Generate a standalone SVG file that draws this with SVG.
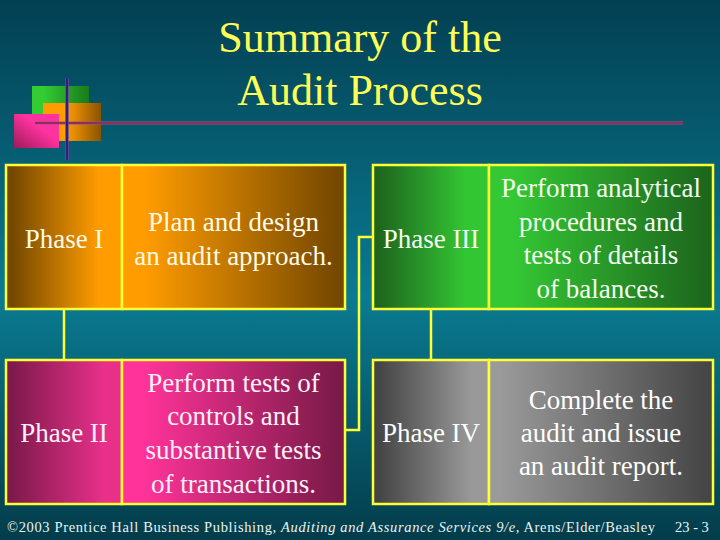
<svg xmlns="http://www.w3.org/2000/svg" width="720" height="540" viewBox="0 0 720 540" font-family="'Liberation Serif', serif">
<defs>
<linearGradient id="bg" x1="0" y1="0" x2="0" y2="1">
<stop offset="0" stop-color="#033f52"/>
<stop offset="0.55" stop-color="#0a7b91"/>
<stop offset="1" stop-color="#033c4a"/>
</linearGradient>
<linearGradient id="oL" x1="0" y1="0" x2="1" y2="0"><stop offset="0.05" stop-color="#744800"/><stop offset="0.8" stop-color="#ff9c00"/></linearGradient>
<linearGradient id="oR" x1="0" y1="0" x2="1" y2="0"><stop offset="0.1" stop-color="#ff9c00"/><stop offset="0.97" stop-color="#744800"/></linearGradient>
<linearGradient id="pL" x1="0" y1="0" x2="1" y2="0"><stop offset="0.05" stop-color="#7e1a4c"/><stop offset="0.85" stop-color="#e8308a"/></linearGradient>
<linearGradient id="pR" x1="0" y1="0" x2="1" y2="0"><stop offset="0.1" stop-color="#ff3399"/><stop offset="0.97" stop-color="#7a1a48"/></linearGradient>
<linearGradient id="gL" x1="0" y1="0" x2="1" y2="0"><stop offset="0.05" stop-color="#1e661e"/><stop offset="0.8" stop-color="#33c633"/></linearGradient>
<linearGradient id="gR" x1="0" y1="0" x2="1" y2="0"><stop offset="0.1" stop-color="#34c834"/><stop offset="0.97" stop-color="#1d661d"/></linearGradient>
<linearGradient id="yL" x1="0" y1="0" x2="1" y2="0"><stop offset="0.05" stop-color="#454545"/><stop offset="0.85" stop-color="#999999"/></linearGradient>
<linearGradient id="yR" x1="0" y1="0" x2="1" y2="0"><stop offset="0.05" stop-color="#9a9a9a"/><stop offset="0.97" stop-color="#464646"/></linearGradient>
<linearGradient id="sqG" x1="0" y1="0" x2="1" y2="0"><stop offset="0.2" stop-color="#33cc33"/><stop offset="1" stop-color="#1a7a1a"/></linearGradient>
<linearGradient id="sqO" x1="0" y1="0" x2="1" y2="0"><stop offset="0.4" stop-color="#ff9c00"/><stop offset="1" stop-color="#8a5400"/></linearGradient>
<linearGradient id="sqP" x1="0" y1="1" x2="1" y2="0"><stop offset="0" stop-color="#a01a5a"/><stop offset="0.6" stop-color="#ff33a0"/></linearGradient>
</defs>
<style>
text{font-family:'Liberation Serif',serif}
.t{text-anchor:middle}
.title{font-size:44px;fill:#ffff55}
.b{font-size:27px}
.cell{stroke:#ffff33;stroke-width:2.5}
.conn{fill:none;stroke:#ffff33;stroke-width:2.5}
.foot{font-size:14.5px;fill:#e8f4f4}
</style>
<rect x="0" y="0" width="720" height="540" fill="url(#bg)"/>

<g id="logo">
<rect x="32" y="86" width="57" height="30" fill="url(#sqG)"/>
<rect x="43" y="103" width="58" height="38" fill="url(#sqO)"/>
<rect x="14" y="114" width="45" height="34" fill="url(#sqP)"/>
<line x1="35" y1="123" x2="683" y2="123" stroke="#b04a80" stroke-width="3"/>
<line x1="35" y1="123" x2="683" y2="123" stroke="#5a1a40" stroke-width="1.2"/>
<line x1="67" y1="78" x2="67" y2="160" stroke="#6a4a9a" stroke-width="3.5"/>
<line x1="67" y1="78" x2="67" y2="160" stroke="#2a1a80" stroke-width="1.8"/>
</g>

<g id="title">
<text class="t title" x="360" y="52">Summary of the</text>
<text class="t title" x="360" y="105">Audit Process</text>
</g>

<g id="connectors">
<line class="conn" x1="64" y1="309" x2="64" y2="360"/>
<polyline class="conn" points="345,430 359,430 359,237 373,237"/>
<line class="conn" x1="431" y1="309" x2="431" y2="360"/>
</g>

<g id="phase1">
<rect class="cell" x="6" y="165" width="116" height="144" fill="url(#oL)"/>
<rect class="cell" x="122" y="165" width="223" height="144" fill="url(#oR)"/>
<text class="t b" x="64" y="248" fill="#fffbe6">Phase I</text>
<text class="t b" fill="#fffbe6"><tspan x="233.5" y="231">Plan and design</tspan><tspan x="233.5" y="265">an audit approach.</tspan></text>
</g>

<g id="phase2">
<rect class="cell" x="6" y="360" width="116" height="144" fill="url(#pL)"/>
<rect class="cell" x="122" y="360" width="223" height="144" fill="url(#pR)"/>
<text class="t b" x="64" y="442" fill="#fff0fa">Phase II</text>
<text class="t b" fill="#fff0fa"><tspan x="233.5" y="392">Perform tests of</tspan><tspan x="233.5" y="425">controls and</tspan><tspan x="233.5" y="459">substantive tests</tspan><tspan x="233.5" y="493">of transactions.</tspan></text>
</g>

<g id="phase3">
<rect class="cell" x="373" y="165" width="116" height="144" fill="url(#gL)"/>
<rect class="cell" x="489" y="165" width="224" height="144" fill="url(#gR)"/>
<text class="t b" x="431" y="248" fill="#f4fff0">Phase III</text>
<text class="t b" fill="#f4fff0"><tspan x="601" y="197">Perform analytical</tspan><tspan x="601" y="231">procedures and</tspan><tspan x="601" y="264">tests of details</tspan><tspan x="601" y="298">of balances.</tspan></text>
</g>

<g id="phase4">
<rect class="cell" x="373" y="360" width="116" height="144" fill="url(#yL)"/>
<rect class="cell" x="489" y="360" width="224" height="144" fill="url(#yR)"/>
<text class="t b" x="431" y="442" fill="#ffffff">Phase IV</text>
<text class="t b" fill="#ffffff"><tspan x="601" y="409">Complete the</tspan><tspan x="601" y="442">audit and issue</tspan><tspan x="601" y="475">an audit report.</tspan></text>
</g>

<g id="footer">
<text class="foot" x="7" y="532" textLength="648" lengthAdjust="spacing">©2003 Prentice Hall Business Publishing, <tspan font-style="italic">Auditing and Assurance Services 9/e,</tspan> Arens/Elder/Beasley</text>
<text class="foot" x="675" y="532">23 - 3</text>
</g>
</svg>
